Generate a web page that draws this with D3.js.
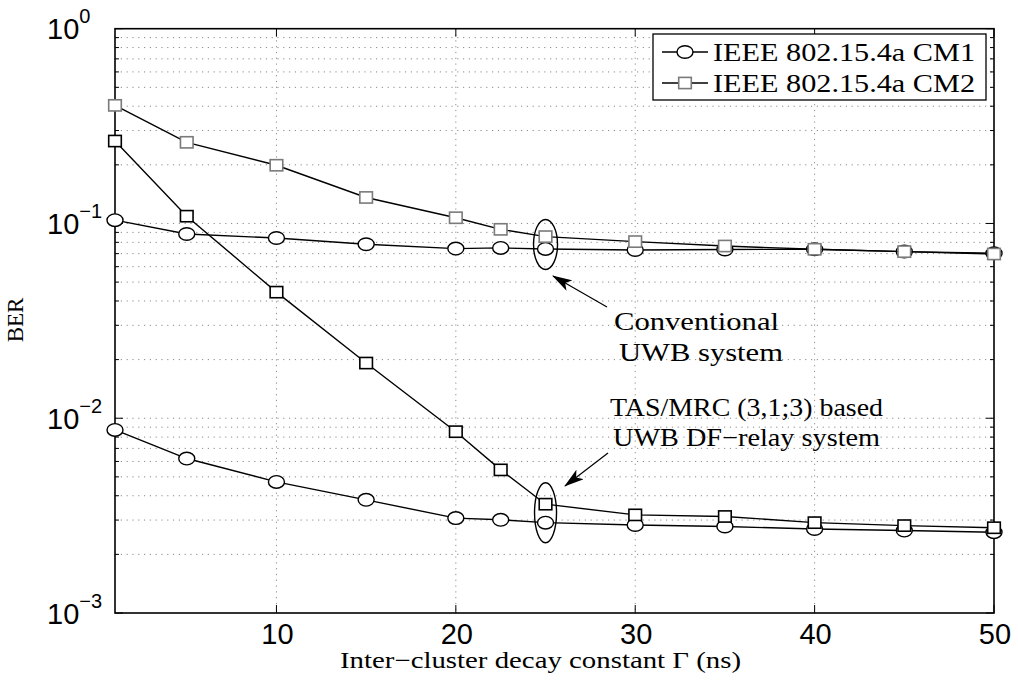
<!DOCTYPE html>
<html>
<head>
<meta charset="utf-8">
<script src="https://cdn.jsdelivr.net/npm/d3@7"></script>
<style>
  body { margin: 0; background: #fff; }
  text { fill: #000; }
</style>
</head>
<body>
<div id="chart"></div>
<script>
// data (BER vs inter-cluster decay constant)
var gamma = [1, 5, 10, 15, 20, 22.5, 25, 30, 35, 40, 45, 50];
var convCM1 = [0.104, 0.0883, 0.0842, 0.0782, 0.0743, 0.0749, 0.0740, 0.0731, 0.0735, 0.0737, 0.0717, 0.0703];
var convCM2 = [0.404, 0.261, 0.199, 0.136, 0.107, 0.0933, 0.0856, 0.0807, 0.0766, 0.0737, 0.0717, 0.0697];
var tasCM1 = [0.00871, 0.00621, 0.00471, 0.00381, 0.00307, 0.00301, 0.00291, 0.00283, 0.00278, 0.00270, 0.00265, 0.00260];
var tasCM2 = [0.265, 0.109, 0.0444, 0.0192, 0.00853, 0.00543, 0.00362, 0.00319, 0.00313, 0.00291, 0.00281, 0.00274];
var xTicks = [10, 20, 30, 40, 50];
var yDecades = [-3, -2, -1, 0];
var legendLabels = ["IEEE 802.15.4a CM1", "IEEE 802.15.4a CM2"];

var W = 1018, H = 680;
var L = 115, R = 994, T = 28.7, B = 613;
var serif = "'Liberation Serif', 'Times New Roman', serif",
    sans = "'Liberation Sans', Arial, sans-serif";

var svg = d3.select("#chart").append("svg")
    .attr("width", W).attr("height", H);

var x = d3.scaleLinear().domain([1, 50]).range([L, R]);
var y = d3.scaleLog().domain([1e-3, 1]).range([B, T]);

// grid (dotted)
var minorVals = [];
yDecades.forEach(function(e){
  if (e < 0) for (var k = 1; k <= 9; k++) minorVals.push(k * Math.pow(10, e));
});
var grid = svg.append("g").attr("stroke", "#8a8a8a").attr("stroke-width", 1)
    .attr("stroke-dasharray", "1.2,4.6");
grid.selectAll("line.h").data(minorVals.filter(function(v){ return v > 1e-3; }))
  .enter().append("line")
    .attr("x1", L).attr("x2", R)
    .attr("y1", function(d){ return y(d); }).attr("y2", function(d){ return y(d); });
grid.selectAll("line.v").data(xTicks.filter(function(v){ return v < 50; }))
  .enter().append("line")
    .attr("x1", function(d){ return x(d); }).attr("x2", function(d){ return x(d); })
    .attr("y1", T).attr("y2", B);

// ticks on all four sides (inward)
var ticks = svg.append("g").attr("stroke", "#000").attr("stroke-width", 1);
minorVals.concat([1]).forEach(function(v){
  var len = (Math.abs(Math.log10(v) - Math.round(Math.log10(v))) < 1e-9) ? 8 : 4;
  ticks.append("line").attr("x1", L).attr("x2", L + len).attr("y1", y(v)).attr("y2", y(v));
  ticks.append("line").attr("x1", R).attr("x2", R - len).attr("y1", y(v)).attr("y2", y(v));
});
xTicks.forEach(function(v){
  ticks.append("line").attr("x1", x(v)).attr("x2", x(v)).attr("y1", B).attr("y2", B - 8);
  ticks.append("line").attr("x1", x(v)).attr("x2", x(v)).attr("y1", T).attr("y2", T + 8);
});

// box
svg.append("rect").attr("x", L).attr("y", T).attr("width", R - L).attr("height", B - T)
  .attr("fill", "none").attr("stroke", "#000").attr("stroke-width", 1.6);

// x tick labels
svg.append("g").selectAll("text").data(xTicks).enter().append("text")
  .attr("x", function(d){ return x(d) + 1; }).attr("y", 644)
  .attr("text-anchor", "middle").attr("font-family", sans).attr("font-size", 29)
  .text(function(d){ return d; });

// y tick labels 10^e
yDecades.forEach(function(e){
  var t = svg.append("text").attr("x", 47).attr("y", y(Math.pow(10, e)) + 10.5)
    .attr("font-family", sans).attr("font-size", 29);
  t.append("tspan").text("10");
  t.append("tspan").attr("dy", -16).attr("font-size", 20)
    .text(e < 0 ? "\u2212" + (-e) : String(e));
});

// axis labels
svg.append("text").attr("x", 340).attr("y", 668)
  .attr("font-family", serif).attr("font-size", 23)
  .attr("textLength", 401).attr("lengthAdjust", "spacingAndGlyphs")
  .text("Inter\u2212cluster decay constant \u0393 (ns)");
svg.append("text").attr("transform", "translate(23,320) rotate(-90)")
  .attr("text-anchor", "middle").attr("font-family", serif).attr("font-size", 23)
  .text("BER");

// series
var line = d3.line().x(function(d){ return x(d[0]); }).y(function(d){ return y(d[1]); });
function drawSeries(vals, shape, mstroke) {
  var pts = gamma.map(function(g, i){ return [g, vals[i]]; });
  svg.append("path").datum(pts).attr("d", line)
    .attr("fill", "none").attr("stroke", "#000").attr("stroke-width", 1.4);
  var g = svg.append("g");
  pts.forEach(function(p){
    drawMarker(g, x(p[0]), y(p[1]), shape, mstroke);
  });
}
function drawMarker(g, cx, cy, shape, mstroke) {
  if (shape === "circle") {
    g.append("ellipse").attr("cx", cx).attr("cy", cy).attr("rx", 8).attr("ry", 6.3)
      .attr("fill", "#fff").attr("stroke", mstroke).attr("stroke-width", 1.4);
  } else {
    g.append("rect").attr("x", cx - 6.3).attr("y", cy - 5.6).attr("width", 12.6).attr("height", 11.2)
      .attr("fill", "#fff").attr("stroke", mstroke).attr("stroke-width", 1.6);
  }
}
drawSeries(convCM1, "circle", "#000");
drawSeries(tasCM1, "circle", "#000");
drawSeries(convCM2, "square", "#7a7a7a");
drawSeries(tasCM2, "square", "#000");

// annotations
svg.append("defs").append("marker").attr("id", "ah")
  .attr("viewBox", "0 0 20 12").attr("refX", 19).attr("refY", 6)
  .attr("markerWidth", 20).attr("markerHeight", 12).attr("markerUnits", "userSpaceOnUse")
  .attr("orient", "auto")
  .append("path").attr("d", "M0,0 L20,6 L0,12 L5,6 Z").attr("fill", "#000");

svg.append("ellipse").attr("cx", x(25)).attr("cy", y(0.078)).attr("rx", 12).attr("ry", 25)
  .attr("fill", "none").attr("stroke", "#000").attr("stroke-width", 1.4);
svg.append("ellipse").attr("cx", x(25)).attr("cy", y(0.00327)).attr("rx", 11).attr("ry", 30)
  .attr("fill", "none").attr("stroke", "#000").attr("stroke-width", 1.4);

svg.append("line").attr("x1", 607).attr("y1", 307).attr("x2", 553).attr("y2", 276)
  .attr("stroke", "#000").attr("stroke-width", 1.2).attr("marker-end", "url(#ah)");
svg.append("line").attr("x1", 608).attr("y1", 453).attr("x2", 565).attr("y2", 486)
  .attr("stroke", "#000").attr("stroke-width", 1.2).attr("marker-end", "url(#ah)");

var notes = [
  {t: "Conventional", x: 614, y: 330, w: 165},
  {t: "UWB system", x: 619, y: 361, w: 164},
  {t: "TAS/MRC (3,1;3) based", x: 610, y: 416, w: 273},
  {t: "UWB DF\u2212relay system", x: 613, y: 446, w: 267}
];
svg.append("g").selectAll("text").data(notes).enter().append("text")
  .attr("x", function(d){ return d.x; }).attr("y", function(d){ return d.y; })
  .attr("font-family", serif).attr("font-size", 25)
  .attr("textLength", function(d){ return d.w; }).attr("lengthAdjust", "spacingAndGlyphs")
  .text(function(d){ return d.t; });

// legend
var lg = svg.append("g");
lg.append("rect").attr("x", 653).attr("y", 34).attr("width", 333).attr("height", 66)
  .attr("fill", "#fff").attr("stroke", "#000").attr("stroke-width", 1.3);
legendLabels.forEach(function(lab, i){
  var cy = 52 + i * 31;
  lg.append("line").attr("x1", 662).attr("x2", 708).attr("y1", cy).attr("y2", cy)
    .attr("stroke", "#000").attr("stroke-width", 1.4);
  drawMarker(lg, 685, cy, i === 0 ? "circle" : "square", i === 0 ? "#000" : "#7a7a7a");
  lg.append("text").attr("x", 713).attr("y", cy + 8.5)
    .attr("font-family", serif).attr("font-size", 25)
    .attr("textLength", 262).attr("lengthAdjust", "spacingAndGlyphs")
    .text(lab);
});
</script>
</body>
</html>
